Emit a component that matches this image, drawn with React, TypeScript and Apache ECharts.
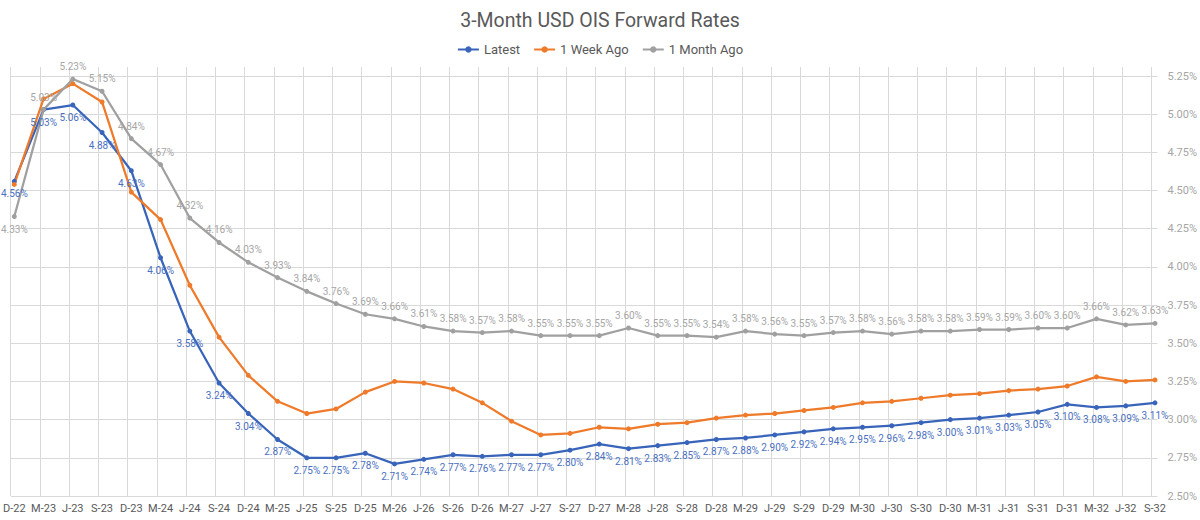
import React, { useEffect, useRef } from "react";
import * as echarts from "echarts";

// Forward start periods (quarterly)
const periods = [
  "D-22", "M-23", "J-23", "S-23", "D-23", "M-24", "J-24", "S-24", "D-24", "M-25",
  "J-25", "S-25", "D-25", "M-26", "J-26", "S-26", "D-26", "M-27", "J-27", "S-27",
  "D-27", "M-28", "J-28", "S-28", "D-28", "M-29", "J-29", "S-29", "D-29", "M-30",
  "J-30", "S-30", "D-30", "M-31", "J-31", "S-31", "D-31", "M-32", "J-32", "S-32",
];

// 3-month USD OIS forward rates, %
const latest = [
  4.56, 5.03, 5.06, 4.88, 4.63, 4.06, 3.58, 3.24, 3.04, 2.87,
  2.75, 2.75, 2.78, 2.71, 2.74, 2.77, 2.76, 2.77, 2.77, 2.80,
  2.84, 2.81, 2.83, 2.85, 2.87, 2.88, 2.90, 2.92, 2.94, 2.95,
  2.96, 2.98, 3.00, 3.01, 3.03, 3.05, 3.10, 3.08, 3.09, 3.11,
];

const weekAgo = [
  4.54, 5.10, 5.20, 5.08, 4.49, 4.31, 3.88, 3.54, 3.29, 3.12,
  3.04, 3.07, 3.18, 3.25, 3.24, 3.20, 3.11, 2.99, 2.90, 2.91,
  2.95, 2.94, 2.97, 2.98, 3.01, 3.03, 3.04, 3.06, 3.08, 3.11,
  3.12, 3.14, 3.16, 3.17, 3.19, 3.20, 3.22, 3.28, 3.25, 3.26,
];

const monthAgo = [
  4.33, 5.03, 5.23, 5.15, 4.84, 4.67, 4.32, 4.16, 4.03, 3.93,
  3.84, 3.76, 3.69, 3.66, 3.61, 3.58, 3.57, 3.58, 3.55, 3.55,
  3.55, 3.60, 3.55, 3.55, 3.54, 3.58, 3.56, 3.55, 3.57, 3.58,
  3.56, 3.58, 3.58, 3.59, 3.59, 3.60, 3.60, 3.66, 3.62, 3.63,
];

// Rate axis range and step
const rateMin = 2.5;
const rateMax = 5.25;
const rateStep = 0.25;

const BLUE = "#3864BA";
const ORANGE = "#EE7A2A";
const GRAY = "#A0A0A0";
const GRID = "#D9D9D9";

const pct = (v: number) => v.toFixed(2) + "%";

export default function App() {
  const ref = useRef<HTMLDivElement>(null);

  useEffect(() => {
    if (!ref.current) return;
    const chart = echarts.init(ref.current, null, { renderer: "svg" });

    const lineSeries = (
      name: string,
      color: string,
      data: any[],
      label: any
    ) => ({
      name,
      type: "line",
      xAxisIndex: 0,
      yAxisIndex: 0,
      data,
      symbol: "circle",
      symbolSize: 5,
      lineStyle: { width: 2.25, color },
      itemStyle: { color },
      label,
    });

    chart.setOption({
      animation: false,
      textStyle: { fontFamily: "Roboto, 'Noto Sans', sans-serif" },
      title: {
        text: "3-Month USD OIS Forward Rates",
        left: "center",
        top: 5,
        textStyle: { fontSize: 19.5, fontWeight: "normal", color: "#595959" },
      },
      legend: {
        top: 38,
        left: "center",
        itemWidth: 21,
        itemHeight: 8,
        itemGap: 13,
        textStyle: { fontSize: 13, color: "#595959" },
        data: ["Latest", "1 Week Ago", "1 Month Ago"],
      },
      grid: [
        // series area
        { left: 14, top: 76, width: 1141, height: 420 },
        // vertical gridlines (date ticks sit just before each point)
        { left: 10.5, top: 67, width: 1141, height: 429 },
        // horizontal gridlines and rate labels
        { left: 11, top: 76, width: 1149, height: 420 },
      ],
      xAxis: [
        {
          gridIndex: 0,
          type: "category",
          data: periods,
          boundaryGap: false,
          axisLine: { show: false },
          axisTick: { show: false },
          splitLine: { show: false },
          axisLabel: { interval: 0, color: "#595959", fontSize: 11, margin: 7 },
        },
        {
          gridIndex: 1,
          type: "category",
          data: periods,
          boundaryGap: false,
          axisLine: { show: false },
          axisTick: { show: false },
          axisLabel: { show: false },
          splitLine: { show: true, interval: 0, lineStyle: { color: GRID, width: 1 } },
        },
        {
          gridIndex: 2,
          type: "category",
          data: periods,
          show: false,
        },
      ],
      yAxis: [
        { gridIndex: 0, type: "value", min: rateMin, max: rateMax, show: false },
        { gridIndex: 1, type: "value", min: 0, max: 1, show: false },
        {
          gridIndex: 2,
          type: "value",
          position: "right",
          min: rateMin,
          max: rateMax,
          interval: rateStep,
          axisLine: { show: false },
          axisTick: { show: false },
          splitLine: { show: true, lineStyle: { color: GRID, width: 1 } },
          axisLabel: { formatter: pct, color: "#A6A6A6", fontSize: 11, margin: 10 },
        },
      ],
      series: [
        lineSeries("Latest", BLUE, latest, {
          show: true,
          position: "bottom",
          distance: 5,
          color: "#4A70C0",
          fontSize: 10,
          formatter: (p: any) => pct(p.value),
        }),
        lineSeries("1 Week Ago", ORANGE, weekAgo, { show: false }),
        lineSeries(
          "1 Month Ago",
          GRAY,
          monthAgo.map((v, i) => (i === 0 ? { value: v, label: { position: "bottom" } } : v)),
          {
            show: true,
            position: "top",
            distance: 5,
            color: "#A6A6A6",
            fontSize: 10,
            formatter: (p: any) => pct(p.value),
          }
        ),
      ],
    });

    return () => chart.dispose();
  }, []);

  return (
    <div
      ref={ref}
      style={{ position: "fixed", left: 0, top: 0, width: 1200, height: 520, background: "#fff" }}
    />
  );
}
